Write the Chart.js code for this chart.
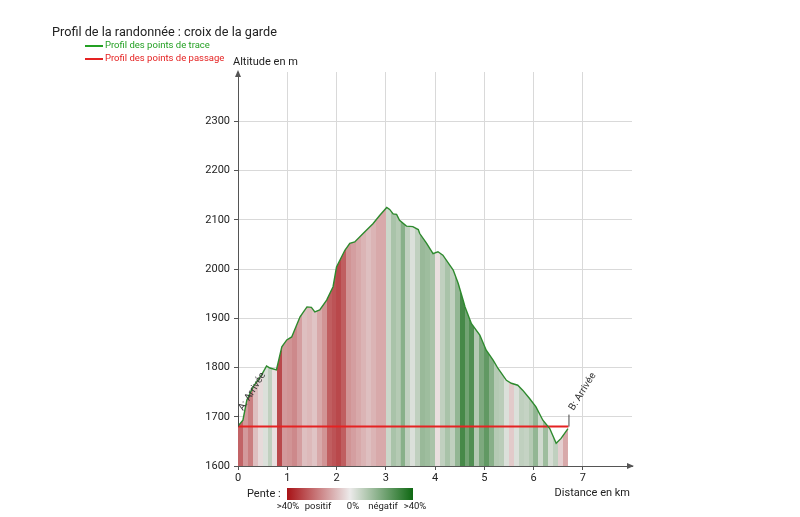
<!DOCTYPE html>
<html>
<head>
<meta charset="utf-8">
<script src="https://cdn.jsdelivr.net/npm/chart.js@4.4.1/dist/chart.umd.min.js"></script>
<style>
  html, body { margin: 0; padding: 0; background: #fff; }
  #wrap { width: 800px; height: 517px; }
</style>
</head>
<body>
<div id="wrap"><canvas id="profil"></canvas></div>
<script>
// profil des points de trace (distance en km, altitude en m)
const distKm = [0.00, 0.10, 0.18, 0.31, 0.48, 0.58, 0.65, 0.78, 0.89, 0.99, 1.09, 1.26, 1.40, 1.49, 1.56, 1.66, 1.80, 1.93,
  2.00, 2.17, 2.27, 2.37, 2.54, 2.74, 2.88, 3.02, 3.08, 3.15, 3.22, 3.28, 3.42, 3.55, 3.66, 3.69, 3.83, 3.96, 4.06, 4.16,
  4.37, 4.47, 4.57, 4.61, 4.74, 4.91, 5.04, 5.18, 5.28, 5.45, 5.55, 5.68, 5.78, 5.92, 6.05, 6.19, 6.33, 6.46, 6.56, 6.70];
const altM = [1681, 1693, 1734, 1761, 1785, 1803, 1799, 1795, 1842, 1856, 1862, 1903, 1923, 1922, 1913, 1917, 1937, 1964,
  2004, 2038, 2052, 2055, 2072, 2092, 2109, 2125, 2121, 2112, 2111, 2099, 2087, 2086, 2080, 2072, 2052, 2031, 2035, 2028,
  1998, 1971, 1937, 1923, 1889, 1866, 1835, 1815, 1798, 1774, 1768, 1764, 1754, 1737, 1720, 1693, 1676, 1646, 1656, 1676];

// pente par tranche de 100 m (en %, positif = montée)
const penteStepKm = 0.1;
const pentePct = [25, 15, 20, 8, 3, -3, -8, 2, 30, 15, 16, 18, 14, 8, 9, 7, 12, 16, 26, 28, 30, 26, 16,
  14, 12, 10, 8, 10, 12, 12, -6, -12, -10, -18, -8, -3, -8, -15, -14, -12, 2, -8, -12, -8, -16,
  -30, -22, -28, -10, -20, -25, -18, -10, -9, -3, 6, -3, -8, -7, -10, -16, -5, -14, -4, -8, 5, 12];

// profil des points de passage
const passageKm = [0, 6.71];
const passageAlt = [1680, 1680];
const passageNames = ['A: Arrivée', 'B: Arrivée'];

const xTicksKm = [0, 1, 2, 3, 4, 5, 6, 7];
const yTicksM = [1600, 1700, 1800, 1900, 2000, 2100, 2200, 2300];

const FONT = 'Roboto, "Noto Sans", sans-serif';

function penteColor(p) {
  const t = Math.min(Math.abs(p) / 40, 1);
  const from = [236, 234, 234];
  const to = p >= 0 ? [168, 18, 22] : [14, 104, 18];
  const c = from.map((v, i) => Math.round(v + (to[i] - v) * t));
  return 'rgb(' + c.join(',') + ')';
}

function stripeFill(context) {
  const chart = context.chart;
  if (!chart.chartArea) return 'transparent';
  const x = chart.scales.x;
  const n = pentePct.length;
  const x0 = x.getPixelForValue(0);
  const x1 = x.getPixelForValue(n * penteStepKm);
  const g = chart.ctx.createLinearGradient(x0, 0, x1, 0);
  pentePct.forEach((p, i) => {
    const col = penteColor(p);
    g.addColorStop(i / n, col);
    g.addColorStop(Math.min((i + 1) / n - 0.0001, 1), col);
  });
  return g;
}

const decor = {
  id: 'decor',
  afterDraw(chart) {
    const { ctx, scales: { x, y } } = chart;
    const left = x.left, bottom = y.bottom, top = y.top, right = x.right;
    ctx.save();

    // arrows on the axes
    ctx.fillStyle = '#555';
    ctx.beginPath();
    ctx.moveTo(left, top - 2); ctx.lineTo(left - 3, top + 5); ctx.lineTo(left + 3, top + 5);
    ctx.closePath(); ctx.fill();
    ctx.beginPath();
    ctx.moveTo(right + 2, bottom); ctx.lineTo(right - 5, bottom - 3); ctx.lineTo(right - 5, bottom + 3);
    ctx.closePath(); ctx.fill();

    // title
    ctx.fillStyle = '#222';
    ctx.textBaseline = 'middle';
    ctx.textAlign = 'left';
    ctx.font = '12.7px ' + FONT;
    ctx.fillText('Profil de la randonnée : croix de la garde', 52, 33);

    // legend
    ctx.font = '9.5px ' + FONT;
    ctx.lineWidth = 2;
    ctx.strokeStyle = '#23a023';
    ctx.beginPath(); ctx.moveTo(85, 46); ctx.lineTo(103, 46); ctx.stroke();
    ctx.fillStyle = '#23a023';
    ctx.fillText('Profil des points de trace', 105, 46);
    ctx.strokeStyle = '#e52222';
    ctx.beginPath(); ctx.moveTo(85, 59); ctx.lineTo(103, 59); ctx.stroke();
    ctx.fillStyle = '#e52222';
    ctx.fillText('Profil des points de passage', 105, 59);

    // axis titles
    ctx.fillStyle = '#222';
    ctx.font = '11px ' + FONT;
    ctx.fillText('Altitude en m', 233, 62);
    ctx.textAlign = 'right';
    ctx.fillText('Distance en km', 630, 493);

    // pente legend
    ctx.textAlign = 'left';
    ctx.fillText('Pente :', 247, 494);
    const g = ctx.createLinearGradient(287, 0, 413, 0);
    [40, 30, 20, 10, 0, -10, -20, -30, -40].forEach((p, i) => g.addColorStop(i / 8, penteColor(p)));
    ctx.fillStyle = g;
    ctx.fillRect(287, 488, 126, 12);
    ctx.fillStyle = '#222';
    ctx.font = '9.5px ' + FONT;
    ctx.textAlign = 'center';
    [['>40%', 288], ['positif', 318], ['0%', 353], ['négatif', 383], ['>40%', 415]].forEach(([t, px]) => {
      ctx.fillText(t, px, 507);
    });

    // passage labels
    ctx.strokeStyle = '#444';
    ctx.lineWidth = 1;
    ctx.fillStyle = '#333';
    ctx.font = '10px ' + FONT;
    ctx.textAlign = 'left';
    passageKm.forEach((d, i) => {
      const px = x.getPixelForValue(d);
      const py = y.getPixelForValue(passageAlt[i]);
      ctx.beginPath(); ctx.moveTo(px + 0.5, py); ctx.lineTo(px + 0.5, py - 12); ctx.stroke();
      ctx.save();
      ctx.translate(px + 3, py - 17);
      ctx.rotate(-58 * Math.PI / 180);
      ctx.fillText(passageNames[i], 0, 0);
      ctx.restore();
    });
    ctx.restore();
  }
};

const hideEdge = (lo, hi, col) => (c) => (c.tick && (c.tick.value === lo || c.tick.value === hi)) ? 'rgba(0,0,0,0)' : col;

new Chart(document.getElementById('profil'), {
  type: 'line',
  data: {
    datasets: [
      {
        label: 'Profil des points de trace',
        data: distKm.map((d, i) => ({ x: d, y: altM[i] })),
        borderColor: '#2e8a2e',
        borderWidth: 1.4,
        backgroundColor: stripeFill,
        fill: 'start',
        pointRadius: 0,
        tension: 0
      },
      {
        label: 'Profil des points de passage',
        data: passageKm.map((d, i) => ({ x: d, y: passageAlt[i] })),
        borderColor: '#e52222',
        borderWidth: 2,
        fill: false,
        pointRadius: 0,
        tension: 0
      }
    ]
  },
  options: {
    responsive: true,
    maintainAspectRatio: false,
    animation: false,
    events: [],
    layout: { padding: { left: 0, right: 168, top: 72, bottom: 31 } },
    scales: {
      x: {
        type: 'linear',
        min: 0,
        max: 8,
        afterFit: (s) => { s.height = 20; },
        afterBuildTicks: (s) => { s.ticks = xTicksKm.concat([8]).map(v => ({ value: v })); },
        ticks: {
          padding: 2,
          color: '#222',
          font: { family: FONT, size: 11 },
          maxRotation: 0,
          callback: (v) => xTicksKm.includes(v) ? String(v) : ''
        },
        grid: {
          color: hideEdge(0, 8, '#d9d9d9'),
          tickColor: hideEdge(-1, 8, '#555'),
          tickLength: 4
        },
        border: { color: '#555', width: 1 }
      },
      y: {
        type: 'linear',
        min: 1600,
        max: 2400,
        afterFit: (s) => { s.width = 238; },
        afterBuildTicks: (s) => { s.ticks = yTicksM.concat([2400]).map(v => ({ value: v })); },
        ticks: {
          padding: 4,
          color: '#222',
          font: { family: FONT, size: 11 },
          callback: (v) => yTicksM.includes(v) ? String(v) : ''
        },
        grid: {
          color: hideEdge(1600, 2400, '#d9d9d9'),
          tickColor: hideEdge(-1, 2400, '#555'),
          tickLength: 4
        },
        border: { color: '#555', width: 1 }
      }
    },
    plugins: {
      legend: { display: false },
      title: { display: false },
      tooltip: { enabled: false },
      filler: { drawTime: 'beforeDatasetsDraw' }
    }
  },
  plugins: [decor]
});
</script>
</body>
</html>
